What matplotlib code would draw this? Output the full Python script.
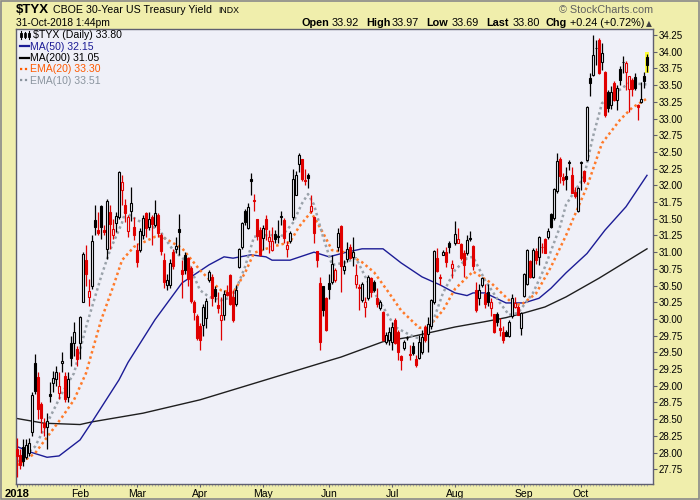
import matplotlib
matplotlib.use("Agg")
import matplotlib.pyplot as plt
from matplotlib.patches import Rectangle
import numpy as np

# ----------------------------- DATA -----------------------------
# daily candles, $TYX, 2-Jan-2018 .. 31-Oct-2018 (trading day index 0..210)
opens = [
    28.05, 27.97, 28.08, 27.93, 28.00, 28.31, 29.34, 29.13, 28.72, 28.45,
    28.38, 28.88, 29.04, 29.10, 28.89, 29.34, 29.14, 28.83, 29.64, 29.64,
    29.55, 29.64, 30.25, 30.88, 30.33, 30.50, 31.48, 31.33, 31.69, 31.33,
    31.04, 31.60, 31.26, 31.43, 31.53, 31.93, 31.70, 31.31, 31.61, 31.38,
    31.03, 31.03, 31.26, 31.59, 31.37, 31.53, 31.41, 31.56, 31.26, 30.89,
    30.51, 30.51, 31.00, 31.04, 31.34, 30.74, 30.96, 30.91, 30.76, 30.26,
    30.04, 29.90, 29.91, 30.01, 30.58, 30.63, 30.45, 30.21, 29.99, 30.06,
    30.41, 30.66, 30.33, 30.23, 30.78, 31.08, 31.61, 31.36, 32.10, 31.78,
    31.49, 31.33, 31.21, 31.49, 31.17, 31.03, 31.27, 31.24, 31.54, 31.48,
    31.04, 31.16, 31.52, 31.86, 32.32, 32.39, 32.08, 32.15, 31.61, 31.52,
    31.01, 30.54, 30.49, 30.31, 30.54, 30.56, 30.58, 31.07, 31.39, 30.74,
    30.90, 31.08, 30.93, 30.53, 30.47, 30.28, 30.18, 30.31, 30.61, 30.56,
    30.31, 30.16, 30.11, 29.66, 29.68, 29.66, 29.98, 29.81, 29.45, 29.56,
    29.72, 29.47, 29.60, 29.40, 29.41, 29.51, 29.88, 29.78, 29.90, 30.26,
    30.92, 30.63, 30.96, 31.00, 31.13, 30.77, 31.13, 31.14, 31.12, 30.98,
    30.98, 31.21, 31.09, 30.43, 30.31, 30.51, 30.38, 30.40, 30.16, 30.07,
    30.08, 29.86, 29.81, 29.80, 29.74, 30.04, 30.18, 30.18, 29.86, 30.34,
    30.53, 30.87, 30.63, 31.01, 30.93, 31.08, 31.19, 31.23, 31.57, 31.51,
    31.91, 32.40, 32.12, 32.14, 32.34, 32.16, 31.90, 31.61, 32.34, 32.21,
    32.38, 33.61, 33.65, 34.06, 34.18, 33.85, 33.70, 33.40, 33.20, 33.53,
    33.28, 33.74, 33.85, 33.70, 33.44, 33.58, 33.62, 33.20, 33.24, 33.63,
    33.92,
]
highs = [
    28.22, 28.05, 28.20, 28.20, 28.22, 28.90, 29.47, 29.20, 28.75, 28.52,
    28.60, 29.05, 29.22, 29.30, 29.20, 29.50, 29.20, 29.20, 29.75, 29.95,
    29.60, 30.05, 31.00, 31.10, 30.60, 31.25, 31.70, 31.60, 31.70, 31.40,
    31.80, 31.70, 31.50, 31.60, 32.22, 32.15, 31.80, 31.55, 31.98, 31.53,
    31.13, 31.36, 31.55, 31.60, 31.60, 31.56, 31.78, 31.58, 31.28, 30.98,
    30.68, 30.90, 31.05, 31.23, 31.57, 30.88, 31.00, 30.93, 30.80, 30.28,
    30.08, 29.94, 30.23, 30.31, 30.74, 30.68, 30.50, 30.41, 30.33, 30.43,
    30.51, 30.68, 30.43, 30.51, 31.06, 31.45, 31.65, 31.73, 32.18, 31.87,
    31.50, 31.38, 31.41, 31.56, 31.33, 31.38, 31.33, 31.48, 31.61, 31.51,
    31.16, 31.31, 32.24, 32.22, 32.48, 32.40, 32.24, 32.19, 31.86, 31.53,
    31.02, 30.63, 30.50, 30.33, 30.68, 30.96, 30.76, 31.36, 31.40, 30.88,
    31.15, 31.12, 31.23, 30.83, 30.53, 30.56, 30.33, 30.66, 30.63, 30.58,
    30.46, 30.28, 30.12, 29.81, 29.88, 29.96, 30.01, 29.83, 29.46, 29.68,
    29.74, 29.61, 29.66, 29.46, 29.76, 29.83, 29.91, 30.03, 30.30, 31.03,
    31.06, 30.68, 31.03, 31.08, 31.16, 30.88, 31.46, 31.36, 31.13, 31.03,
    31.26, 31.32, 31.10, 30.56, 30.53, 30.63, 30.53, 30.53, 30.31, 30.08,
    30.10, 30.01, 29.89, 29.84, 29.98, 30.38, 30.33, 30.21, 30.11, 30.69,
    31.05, 30.88, 31.06, 31.06, 31.24, 31.13, 31.21, 31.36, 31.58, 31.96,
    32.48, 32.43, 32.18, 32.28, 32.38, 32.28, 31.98, 31.98, 32.36, 32.23,
    33.19, 33.68, 34.25, 34.18, 34.20, 34.13, 33.71, 33.43, 33.48, 33.56,
    33.50, 33.78, 33.94, 33.86, 33.63, 33.60, 33.68, 33.21, 33.55, 33.70,
    33.97,
]
lows = [
    27.63, 27.75, 27.80, 27.90, 27.95, 28.25, 28.88, 28.50, 28.30, 28.25,
    28.05, 28.75, 28.90, 29.00, 28.80, 29.20, 28.75, 28.75, 29.30, 29.45,
    29.30, 29.40, 30.25, 30.50, 30.20, 30.45, 31.25, 31.25, 31.20, 31.25,
    30.90, 31.05, 31.20, 31.30, 31.50, 31.70, 31.45, 31.23, 31.46, 31.18,
    30.78, 31.00, 31.20, 31.23, 31.33, 31.11, 31.38, 31.23, 30.96, 30.46,
    30.43, 30.46, 30.75, 30.98, 30.96, 30.31, 30.68, 30.50, 30.24, 29.99,
    29.68, 29.54, 29.74, 29.86, 30.56, 30.19, 30.25, 30.09, 29.69, 29.99,
    30.35, 30.21, 29.96, 30.20, 30.76, 31.05, 31.40, 31.35, 31.86, 31.62,
    31.18, 30.94, 31.03, 31.18, 30.98, 31.01, 31.13, 31.14, 31.41, 31.13,
    30.93, 31.13, 31.48, 31.85, 32.20, 32.06, 32.00, 31.96, 31.58, 31.14,
    30.78, 29.54, 30.04, 29.82, 30.30, 30.53, 30.56, 31.01, 30.41, 30.68,
    30.85, 30.90, 30.80, 30.46, 30.13, 30.26, 30.03, 30.28, 30.33, 30.41,
    30.18, 30.13, 29.67, 29.63, 29.61, 29.53, 29.63, 29.38, 29.23, 29.53,
    29.68, 29.38, 29.46, 29.28, 29.40, 29.48, 29.66, 29.50, 29.85, 30.23,
    30.70, 30.51, 30.95, 30.78, 30.98, 30.61, 31.11, 31.13, 30.88, 30.63,
    30.96, 31.16, 30.73, 30.11, 30.21, 30.48, 30.16, 30.20, 30.04, 29.79,
    29.89, 29.74, 29.64, 29.74, 29.73, 30.02, 30.16, 30.06, 29.76, 30.33,
    30.51, 30.61, 30.61, 30.83, 30.81, 30.98, 30.98, 31.19, 31.36, 31.48,
    31.88, 32.03, 32.00, 31.93, 32.23, 31.88, 31.81, 31.60, 31.93, 32.03,
    32.36, 33.33, 33.63, 33.80, 33.66, 33.73, 33.03, 33.10, 33.15, 33.26,
    33.13, 33.50, 33.68, 33.43, 33.10, 33.33, 33.43, 32.98, 33.23, 33.45,
    33.69,
]
closes = [
    27.95, 27.82, 27.88, 28.12, 28.14, 28.86, 28.92, 28.66, 28.52, 28.38,
    28.47, 28.85, 29.12, 29.20, 29.00, 29.37, 28.80, 29.10, 29.42, 29.80,
    29.40, 30.03, 30.97, 30.67, 30.42, 31.16, 31.38, 31.28, 31.38, 31.30,
    31.77, 31.42, 31.35, 31.54, 32.20, 32.05, 31.58, 31.53, 31.73, 31.26,
    30.86, 31.31, 31.51, 31.36, 31.50, 31.42, 31.58, 31.29, 31.01, 30.56,
    30.59, 30.84, 30.80, 31.09, 31.30, 30.68, 30.74, 30.60, 30.27, 30.11,
    29.71, 29.68, 30.18, 30.27, 30.71, 30.31, 30.35, 30.16, 30.06, 30.38,
    30.36, 30.23, 29.99, 30.43, 31.04, 31.43, 31.45, 31.68, 32.07, 31.76,
    31.24, 30.96, 31.36, 31.34, 31.22, 31.16, 31.20, 31.23, 31.53, 31.21,
    31.11, 31.28, 32.09, 32.15, 32.46, 32.09, 32.06, 32.11, 31.69, 31.29,
    30.89, 29.66, 30.13, 29.84, 30.45, 30.83, 30.74, 31.29, 30.79, 30.80,
    31.05, 30.92, 31.00, 30.66, 30.46, 30.53, 30.26, 30.63, 30.41, 30.44,
    30.23, 30.26, 29.68, 29.76, 29.81, 29.88, 29.64, 29.51, 29.39, 29.66,
    29.71, 29.46, 29.49, 29.31, 29.66, 29.73, 29.69, 29.93, 30.28, 31.02,
    30.72, 30.62, 31.00, 30.86, 31.07, 30.82, 31.27, 31.19, 30.91, 30.81,
    31.18, 31.19, 30.79, 30.14, 30.44, 30.61, 30.23, 30.26, 30.25, 29.81,
    29.96, 29.84, 29.69, 29.75, 29.96, 30.32, 30.24, 30.06, 30.09, 30.68,
    31.03, 30.63, 31.03, 30.88, 31.23, 31.07, 30.99, 31.32, 31.38, 31.94,
    32.37, 32.14, 32.08, 32.10, 32.33, 31.88, 31.84, 31.96, 32.33, 32.06,
    33.18, 33.53, 33.95, 34.05, 33.68, 33.98, 33.06, 33.16, 33.40, 33.28,
    33.45, 33.58, 33.84, 33.83, 33.63, 33.44, 33.46, 33.18, 33.29, 33.56,
    33.80,
]

# overlay lines: (trading day index, value)
ma50_idx = [0, 5, 10, 14, 21, 25, 34, 37, 46, 55, 64, 69, 72, 78, 83, 85, 91, 99,
            104, 109, 115, 122, 128, 135, 141, 146, 150, 152, 156, 163, 169, 174,
            178, 183, 190, 196, 203, 210]
ma50_val = [28.09, 28.00, 27.93, 27.95, 28.19, 28.46, 29.09, 29.35, 29.99, 30.54,
            30.81, 30.93, 30.91, 30.96, 30.93, 30.88, 30.88, 31.00, 30.93, 30.99,
            31.05, 31.05, 30.84, 30.63, 30.51, 30.39, 30.35, 30.39, 30.39, 30.24,
            30.24, 30.31, 30.46, 30.69, 30.98, 31.33, 31.68, 32.15]

ma200_idx = [0, 9, 21, 25, 42, 61, 83, 105, 108, 122, 131, 139, 146, 156, 163,
             169, 176, 183, 194, 210]
ma200_val = [28.51, 28.44, 28.42, 28.46, 28.59, 28.79, 29.09, 29.39, 29.43, 29.66,
             29.73, 29.81, 29.88, 29.96, 30.02, 30.09, 30.18, 30.33, 30.61, 31.05]

ema20_idx = [0, 6, 10, 15, 19, 23, 28, 32, 35, 39, 46, 48, 55, 61, 65, 68, 72, 76,
             79, 85, 91, 94, 98, 102, 105, 109, 115, 119, 124, 128, 134, 137, 142,
             146, 152, 158, 165, 168, 173, 178, 183, 190, 195, 201, 205, 210]
ema20_val = [27.81, 27.99, 28.23, 28.53, 28.79, 29.19, 29.98, 30.48, 30.88, 31.08,
             31.23, 31.24, 31.06, 30.73, 30.55, 30.43, 30.39, 30.69, 30.99, 31.08,
             31.15, 31.38, 31.60, 31.29, 31.03, 31.00, 30.85, 30.70, 30.39, 30.13,
             29.87, 29.87, 30.13, 30.45, 30.71, 30.54, 30.24, 30.21, 30.38, 30.78,
             31.25, 31.98, 32.63, 32.98, 33.16, 33.30]

ema10_idx = [0, 6, 10, 15, 19, 23, 28, 31, 35, 36, 39, 44, 47, 52, 57, 61, 64, 68,
             72, 76, 79, 84, 88, 92, 95, 97, 99, 102, 105, 109, 113, 117, 122, 126,
             131, 135, 138, 142, 146, 150, 152, 156, 161, 164, 167, 172, 176, 181,
             183, 189, 192, 195, 200, 204, 210]
ema10_val = [27.86, 28.09, 28.44, 28.89, 29.19, 29.88, 30.63, 31.03, 31.44, 31.60,
             31.51, 31.38, 31.36, 31.03, 30.84, 30.43, 30.33, 30.28, 30.33, 30.78,
             31.23, 31.26, 31.23, 31.44, 31.73, 31.87, 31.71, 31.23, 30.81, 30.84,
             30.91, 30.55, 30.18, 29.88, 29.76, 29.69, 29.88, 30.39, 30.73, 30.91,
             30.93, 30.58, 30.24, 30.06, 30.09, 30.39, 30.78, 31.38, 31.71, 32.13,
             32.73, 33.23, 33.40, 33.53, 33.51]

month_idx = [0, 21, 40, 61, 82, 104, 125, 146, 169, 188]
month_lbl = ["2018", "Feb", "Mar", "Apr", "May", "Jun", "Jul", "Aug", "Sep", "Oct"]

# ----------------------------- STYLE -----------------------------
BG_OUT = "#f0eeac"
BG_PLOT = "#eff0f8"
RED = "#e00000"
BLACK = "#000000"
FONT = ["Liberation Sans", "DejaVu Sans"]
plt.rcParams["font.family"] = FONT

W, H = 700, 500


def fx(x):
    return x / W


def fy(y):
    return 1 - y / H


fig = plt.figure(figsize=(7, 5), dpi=100, facecolor=BG_OUT)
fig.patches.append(Rectangle((0.0015, 0.002), 0.997, 0.996, transform=fig.transFigure,
                             fill=False, edgecolor="#8a8a8a", lw=1.2))

ax = fig.add_axes([fx(16), fy(484), fx(653) - fx(16), fy(29) - fy(484)])
ax.set_facecolor(BG_PLOT)

# ----------------------------- CANDLES -----------------------------
n = len(closes)
x = np.arange(n)
# highlight behind the last bar
ax.add_patch(Rectangle((n - 1 - 0.75, lows[-1] - 0.01), 1.5, highs[-1] - lows[-1] + 0.03,
                       facecolor="#ffff3a", edgecolor="none", zorder=1))

for i in range(n):
    o, h, l, c = opens[i], highs[i], lows[i], closes[i]
    prev = closes[i - 1] if i > 0 else o
    col = RED if c < prev else BLACK
    face = col if c < o else BG_PLOT
    ax.vlines(i, l, h, color=col, lw=0.9, zorder=3)
    body = max(abs(c - o), 0.012)
    ax.add_patch(Rectangle((i - 0.33, min(o, c)), 0.66, body, facecolor=face,
                           edgecolor=col, lw=0.8, zorder=4))

# ----------------------------- OVERLAYS -----------------------------
ax.plot(ma200_idx, ma200_val, color="#1e1e1e", lw=1.0, zorder=2)
ax.plot(ma50_idx, ma50_val, color="#1c1c96", lw=1.0, zorder=2)
ax.plot(ema20_idx, ema20_val, color="#ff7a2a", lw=1.8, ls=(0, (1, 1.2)), zorder=2)
ax.plot(ema10_idx, ema10_val, color="#9aa2aa", lw=1.8, ls=(0, (1, 1.2)), zorder=2)

# ----------------------------- AXES -----------------------------
ax.set_xlim(-0.35, 212)
ax.set_ylim(27.53, 34.34)
ax.yaxis.tick_right()
yt = np.arange(27.75, 34.26, 0.25)
ax.set_yticks(yt)
ax.set_yticklabels([f"{v:.2f}" for v in yt])
ax.tick_params(axis="y", labelsize=7, length=3, width=0.8, color="#606070", pad=1)
ax.set_xticks(month_idx)
ax.set_xticklabels(month_lbl)
ax.tick_params(axis="x", labelsize=7.5, length=2, width=0.8, color="#606070", pad=1.5)
ax.get_xticklabels()[0].set_fontweight("bold")
ax.get_xticklabels()[0].set_fontsize(8)
ax.set_xticks(x, minor=True)
ax.tick_params(axis="x", which="minor", length=1.2, width=0.4, color="#8080a0")
for s in ax.spines.values():
    s.set_color("#5f5f70")
    s.set_linewidth(1.0)

# ----------------------------- HEADER -----------------------------
fig.text(fx(16), fy(13), "$TYX", fontsize=9.5, fontweight="bold", va="baseline")
fig.text(fx(53), fy(13), "CBOE 30-Year US Treasury Yield", fontsize=7.7, va="baseline")
fig.text(fx(218), fy(13), "INDX", fontsize=6.3, va="baseline")
fig.text(fx(16), fy(26), "31-Oct-2018 1:44pm", fontsize=7.4, va="baseline")
fig.text(fx(653), fy(13), "\u00a9 StockCharts.com", fontsize=7.8, color="#606060",
         ha="right", va="baseline")

quote = [(301, "Open", True), (332, "33.92", False), (366, "High", True),
         (392, "33.97", False), (426, "Low", True), (452, "33.69", False),
         (486, "Last", True), (513, "33.80", False), (546, "Chg", True),
         (570, "+0.24 (+0.72%)", False)]
for px, txt, bold in quote:
    fig.text(fx(px), fy(26), txt, fontsize=7.8, va="baseline",
             fontweight="bold" if bold else "normal")
fig.text(fx(646), fy(26), "\u25b2", fontsize=5.5, va="baseline", color="#404040",
         family=["DejaVu Sans"])

# ----------------------------- LEGEND -----------------------------
leg = [("$TYX (Daily) 33.80", BLACK, None),
       ("MA(50) 32.15", "#1c1c96", "-"),
       ("MA(200) 31.05", BLACK, "-"),
       ("EMA(20) 33.30", "#ff5a00", ":"),
       ("EMA(10) 33.51", "#8a949e", ":")]
for k, (txt, col, st) in enumerate(leg):
    yy = 35 + k * 11.3
    if st is None:
        fig.text(fx(33), fy(yy + 3.5), txt, fontsize=7.6, color=col, va="baseline")
        # tiny candle icon
        for dx, top, bot, fill in [(21, 31, 39, True), (25, 32, 38, False), (29, 31, 39, True)]:
            fig.add_artist(plt.Line2D([fx(dx), fx(dx)], [fy(bot), fy(top)], color=BLACK,
                                      lw=0.8, transform=fig.transFigure))
            fig.patches.append(Rectangle((fx(dx - 1.2), fy(37)), fx(2.4), fy(33) - fy(37),
                                         transform=fig.transFigure,
                                         facecolor=BLACK if fill else BG_PLOT,
                                         edgecolor=BLACK, lw=0.6))
    else:
        fig.text(fx(30), fy(yy + 3.5), txt, fontsize=7.6, color=col, va="baseline")
        fig.add_artist(plt.Line2D([fx(20), fx(28.5)], [fy(yy), fy(yy)], color=col,
                                  lw=1.6, ls=(0, (1, 1.2)) if st == ":" else "-",
                                  transform=fig.transFigure))

fig.savefig("out.png", dpi=100, facecolor=BG_OUT)
